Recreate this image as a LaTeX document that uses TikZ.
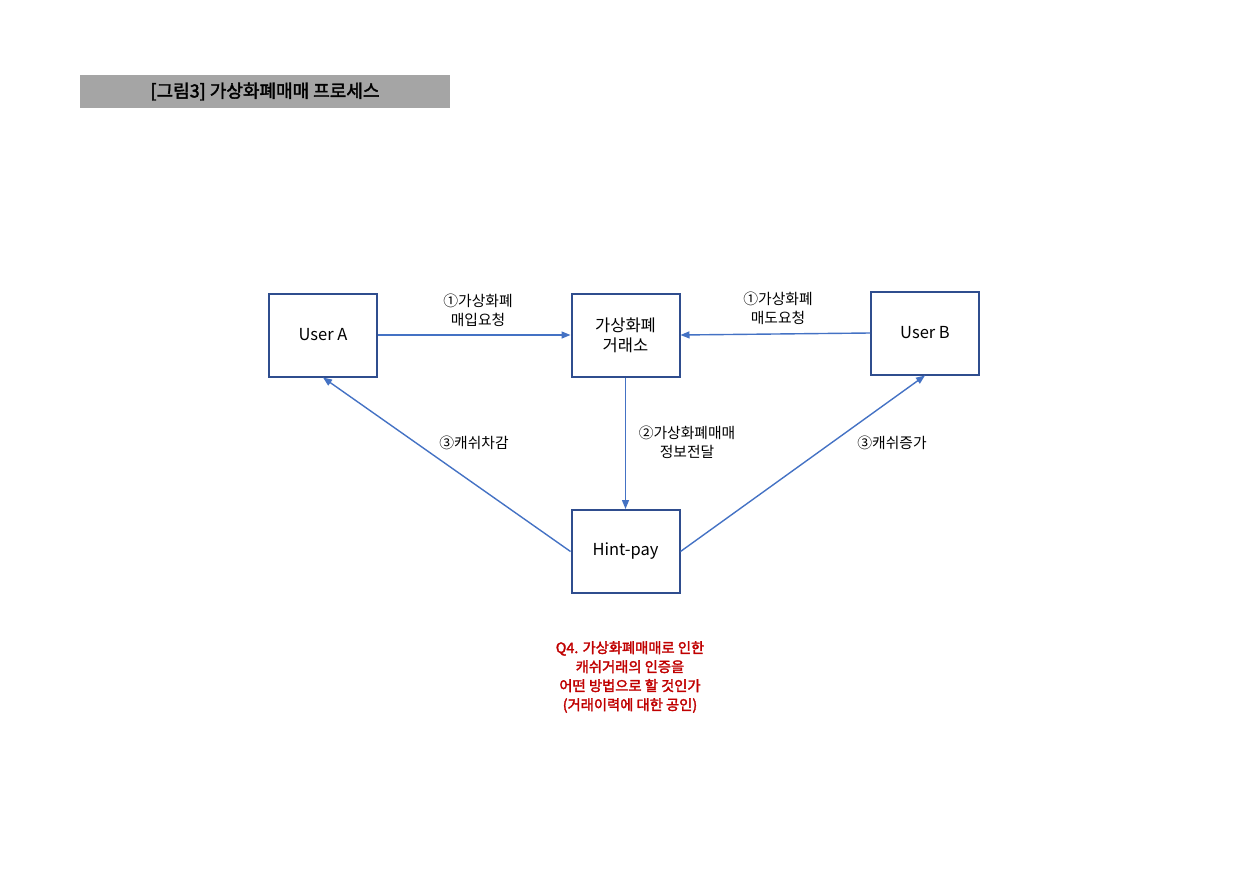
\documentclass[tikz,border=0pt]{standalone}
\usepackage{fontspec}
\setmainfont{Noto Sans CJK KR}
\newfontfamily\krb{Noto Sans CJK KR}[FakeBold=2.2]
\usetikzlibrary{arrows.meta}
\definecolor{boxline}{HTML}{2F4D8E}
\definecolor{arrowc}{HTML}{4472C4}
\definecolor{titlegray}{HTML}{A5A5A5}
\definecolor{qred}{HTML}{C00000}
\tikzset{
  box/.style={draw=boxline, line width=2pt, minimum width=108pt, minimum height=83pt, inner sep=0pt, align=center, font=\fontsize{16.5}{20}\selectfont},
  conn/.style={draw=arrowc, line width=1.4pt, -{Triangle[length=9pt,width=7pt]}},
  lbl/.style={align=center, font=\fontsize{14.8}{19}\selectfont}
}
\begin{document}
\begin{tikzpicture}[x=1pt,y=-1pt]
\useasboundingbox (0,0) rectangle (1256,889);
\fill[titlegray] (80,75) rectangle (450,108);
\node[font=\krb\fontsize{18}{20}\selectfont] (title) at (265,91.5) {[그림3] 가상화폐매매 프로세스};
\node[box] (ua) at (323,335) {User A};
\node[box] (ex) at (625.5,335) {가상화폐\\거래소};
\node[box] (ub) at (925,333) {User B};
\node[box] (hp) at (625.5,551.5) {Hint-pay};
\draw[conn] (ua.east) -- (ex.west);
\draw[conn] (ub.west) -- (ex.east);
\draw[conn] (ex.south) -- (hp.north);
\draw[conn] (hp.west) -- (ua.south);
\draw[conn] (hp.east) -- (ub.south);
\node[lbl] (l1) at (478,310) {①가상화폐\\매입요청};
\node[lbl] (l2) at (778,308) {①가상화폐\\매도요청};
\node[lbl] (l3) at (687,442) {②가상화폐매매\\정보전달};
\node[lbl] (l4) at (474,443) {③캐쉬차감};
\node[lbl] (l5) at (892,443) {③캐쉬증가};
\node[align=center, text=qred, font=\krb\fontsize{14.3}{19}\selectfont] (q4) at (630,677) {Q4. 가상화폐매매로 인한\\캐쉬거래의 인증을\\어떤 방법으로 할 것인가\\(거래이력에 대한 공인)};
\end{tikzpicture}
\end{document}
